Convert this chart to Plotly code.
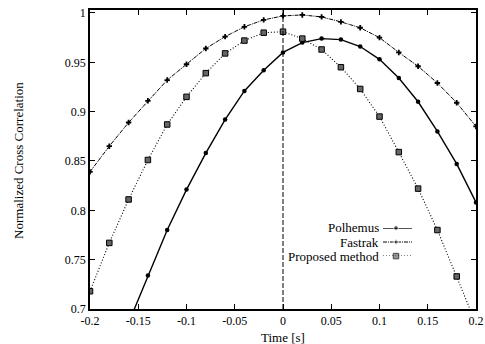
import plotly.graph_objects as go

time_s = [-0.2, -0.18, -0.16, -0.14, -0.12, -0.1, -0.08, -0.06, -0.04, -0.02, 0.0,
          0.02, 0.04, 0.06, 0.08, 0.1, 0.12, 0.14, 0.16, 0.18, 0.2]

polhemus_t = time_s[2:]
polhemus = [0.686, 0.734, 0.780, 0.821, 0.858, 0.892, 0.921, 0.942, 0.960,
            0.970, 0.974, 0.973, 0.966, 0.953, 0.934, 0.910, 0.880, 0.847, 0.808]

fastrak = [0.839, 0.865, 0.889, 0.911, 0.932, 0.948, 0.964, 0.976, 0.986, 0.993, 0.997,
           0.998, 0.996, 0.991, 0.985, 0.975, 0.960, 0.946, 0.929, 0.909, 0.885]

proposed = [0.718, 0.767, 0.811, 0.851, 0.887, 0.915, 0.939, 0.959, 0.972, 0.980, 0.981,
            0.974, 0.963, 0.945, 0.923, 0.895, 0.859, 0.822, 0.780, 0.733, 0.685]

series_names = ["Polhemus", "Fastrak", "Proposed method"]
x_ticks = [-0.2, -0.15, -0.1, -0.05, 0, 0.05, 0.1, 0.15, 0.2]
x_tick_text = ["-0.2", "-0.15", "-0.1", "-0.05", "0", "0.05", "0.1", "0.15", "0.2"]
y_ticks = [0.7, 0.75, 0.8, 0.85, 0.9, 0.95, 1.0]
y_tick_text = ["0.7", "0.75", "0.8", "0.85", "0.9", "0.95", "1"]
x_title = "Time [s]"
y_title = "Normalized Cross Correlation"

FONT = "Liberation Serif"
styles = [
    dict(line=dict(color="black", width=1.4, dash="solid"),
         marker=dict(symbol="circle", size=4.5, color="black")),
    dict(line=dict(color="black", width=1, dash="4px,1px,1px,1px"),
         marker=dict(symbol="cross", size=4.5, color="black")),
    dict(line=dict(color="black", width=1.1, dash="1px,2px"),
         marker=dict(symbol="square", size=5.5, color="#666", line=dict(color="black", width=1))),
]

fig = go.Figure()
for xs, ys, st, nm in [(polhemus_t, polhemus, styles[0], series_names[0]),
                       (time_s, fastrak, styles[1], series_names[1]),
                       (time_s, proposed, styles[2], series_names[2])]:
    fig.add_trace(go.Scatter(x=xs, y=ys, mode="lines+markers", name=nm,
                             line=st["line"], marker=st["marker"], showlegend=False))

# hand-made gnuplot-style legend (text right-aligned, sample to the right of text)
leg_rows = [1.0, 0.5, 0.0]
leg_paper_y = [0.271, 0.224, 0.177]
for i, (st, nm) in enumerate(zip(styles, series_names)):
    mk = dict(st["marker"])
    mk["size"] = [0, mk["size"], 0]
    fig.add_trace(go.Scatter(x=[0.0, 0.45, 1.0], y=[leg_rows[i]] * 3, mode="lines+markers",
                             line=st["line"], marker=mk, showlegend=False, hoverinfo="skip",
                             xaxis="x2", yaxis="y2", cliponaxis=False))
    fig.add_annotation(x=0.755, y=leg_paper_y[i], xref="paper", yref="paper", text=nm,
                       showarrow=False, xanchor="right", yanchor="middle",
                       font=dict(family=FONT, size=13, color="black"))

fig.add_annotation(x=0.5, y=-0.094, xref="paper", yref="paper", text=x_title,
                   showarrow=False, xanchor="center", yanchor="middle",
                   font=dict(family=FONT, size=13, color="black"))
fig.add_annotation(x=-0.187, y=0.498, xref="paper", yref="paper", text=y_title,
                   showarrow=False, xanchor="center", yanchor="middle", textangle=-90,
                   font=dict(family=FONT, size=13, color="black"))

fig.add_shape(type="line", x0=0, x1=0, y0=0, y1=1, xref="x", yref="paper",
              line=dict(color="black", width=1, dash="5px,2px"))

axis_common = dict(showgrid=False, zeroline=False, showline=True, linecolor="black",
                   linewidth=1.5, mirror="ticks", ticks="inside", ticklen=5,
                   tickcolor="black", tickwidth=1, automargin=False,
                   ticklabeloverflow="allow",
                   tickfont=dict(family=FONT, size=12, color="black"))
fig.update_layout(
    width=485, height=344,
    margin=dict(l=90, r=9, t=10, b=35, autoexpand=False),
    paper_bgcolor="white", plot_bgcolor="white",
    xaxis=dict(range=[-0.2, 0.2], tickvals=x_ticks, ticktext=x_tick_text, **axis_common),
    yaxis=dict(range=[0.7, 1.003], tickvals=y_ticks, ticktext=y_tick_text, **axis_common),
    xaxis2=dict(domain=[0.759, 0.834], range=[0, 1], visible=False, anchor="y2"),
    yaxis2=dict(domain=[0.177, 0.271], range=[0, 1], visible=False, anchor="x2"),
)

# remove the page's default body margin so the figure fills the window exactly
fig.write_html("out.html", config={"displayModeBar": False},
               post_script="document.body.style.margin='0';")
